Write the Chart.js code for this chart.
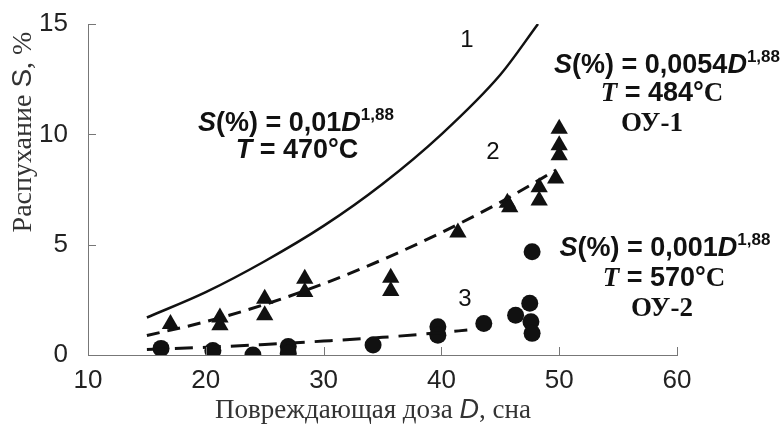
<!DOCTYPE html>
<html>
<head>
<meta charset="utf-8">
<script src="https://cdn.jsdelivr.net/npm/chart.js@4.4.1/dist/chart.umd.min.js"></script>
<style>
  html, body { margin: 0; padding: 0; background: #ffffff; }
  #wrap { width: 781px; height: 425px; }
</style>
</head>
<body>
<div id="wrap"><canvas id="c" width="781" height="425"></canvas></div>
<script>
// Axis ticks
const doseTicks = [10, 20, 30, 40, 50, 60];
const swellTicks = [0, 5, 10, 15];

// Fitted curves (dose D, swelling S %)
const fit1Dose = [15, 20, 25, 30, 35, 40, 45, 48.2];
const fit1Swell = [1.7, 2.85, 4.25, 5.85, 7.75, 10.0, 12.7, 15.0];
const fit2Dose = [15, 20, 25, 30, 35, 40, 45, 49.7];
const fit2Swell = [0.88, 1.51, 2.29, 3.23, 4.32, 5.55, 6.92, 8.37];
const fit3Dose = [15, 20, 25, 30, 35, 40, 42.2];
const fit3Swell = [0.25, 0.35, 0.48, 0.63, 0.8, 1.02, 1.13];

// Measured points, ОУ-1 (triangles)
const ou1Dose = [17.0, 21.2, 21.2, 25.0, 25.0, 28.4, 28.4, 35.7, 35.7, 41.4, 45.6, 45.8, 48.3, 48.3, 49.7, 50.0, 50.0, 50.0];
const ou1Swell = [1.4, 1.7, 1.35, 2.55, 1.8, 3.45, 2.85, 3.5, 2.9, 5.55, 6.9, 6.7, 7.6, 7.0, 8.0, 10.25, 9.5, 9.05];

// Measured points, ОУ-2 (circles)
const ou2Dose = [16.2, 20.6, 24.0, 27.0, 27.0, 34.2, 39.7, 39.7, 43.6, 46.3, 47.5, 47.6, 47.7, 47.7];
const ou2Swell = [0.3, 0.2, 0.0, 0.38, 0.08, 0.45, 1.28, 0.9, 1.43, 1.8, 2.34, 1.51, 0.98, 4.68];

const pairs = (xs, ys) => xs.map((x, i) => ({ x: x, y: ys[i] }));

const INK = '#111111';
const SANS = '"Liberation Sans", Arial, sans-serif';
const SERIF = '"Liberation Serif", "Times New Roman", serif';

function drawRuns(ctx, runs, cx, y) {
  let w = 0;
  runs.forEach(r => { ctx.font = r.f; r.w = ctx.measureText(r.t).width; w += r.w; });
  let x = cx - w / 2;
  runs.forEach(r => { ctx.font = r.f; ctx.fillText(r.t, x, y + (r.dy || 0)); x += r.w; });
}

const fB = 'bold 27px ' + SANS;
const fBI = 'italic bold 27px ' + SANS;
const fSup = 'bold 17px ' + SANS;
const fSerB = 'bold 27px ' + SERIF;
const fSerBI = 'italic bold 27px ' + SERIF;
const fNum = '24px ' + SANS;

const decor = {
  id: 'decor',
  afterDraw(chart) {
    const ctx = chart.ctx;
    const xs = chart.scales.x, ys = chart.scales.y;
    const a = chart.chartArea;
    ctx.save();
    // inward tick marks
    ctx.strokeStyle = '#777777';
    ctx.lineWidth = 1;
    ctx.beginPath();
    doseTicks.forEach(v => {
      if (v === doseTicks[0]) return;
      const px = Math.round(xs.getPixelForValue(v)) + 0.5;
      ctx.moveTo(px, a.bottom); ctx.lineTo(px, a.bottom - 8);
    });
    swellTicks.forEach(v => {
      if (v === swellTicks[0]) return;
      const py = Math.round(ys.getPixelForValue(v)) + 0.5;
      ctx.moveTo(a.left, py); ctx.lineTo(a.left + 8, py);
    });
    ctx.stroke();

    ctx.fillStyle = INK;
    ctx.textBaseline = 'alphabetic';
    ctx.textAlign = 'left';

    // curve numbers
    drawRuns(ctx, [{ t: '1', f: fNum }], 467, 47);
    drawRuns(ctx, [{ t: '2', f: fNum }], 493, 159);
    drawRuns(ctx, [{ t: '3', f: fNum }], 465, 306);

    // curve 1 equation
    drawRuns(ctx, [
      { t: 'S', f: fBI }, { t: '(%) = 0,01', f: fB }, { t: 'D', f: fBI }, { t: '1,88', f: fSup, dy: -11 }
    ], 296, 131);
    drawRuns(ctx, [{ t: 'T', f: fBI }, { t: ' = 470°C', f: fB }], 297, 158);

    // curve 2 equation
    drawRuns(ctx, [
      { t: 'S', f: fBI }, { t: '(%) = 0,0054', f: fB }, { t: 'D', f: fBI }, { t: '1,88', f: fSup, dy: -11 }
    ], 667, 73);
    drawRuns(ctx, [{ t: 'T', f: fSerBI }, { t: ' = 484°', f: fB }, { t: 'C', f: fSerB }], 662, 101);
    drawRuns(ctx, [{ t: 'ОУ-1', f: fSerB }], 652, 131);

    // curve 3 equation
    drawRuns(ctx, [
      { t: 'S', f: fBI }, { t: '(%) = 0,001', f: fB }, { t: 'D', f: fBI }, { t: '1,88', f: fSup, dy: -11 }
    ], 665, 256);
    drawRuns(ctx, [{ t: 'T', f: fSerBI }, { t: ' = 570°', f: fB }, { t: 'C', f: fSerB }], 664, 286);
    drawRuns(ctx, [{ t: 'ОУ-2', f: fSerB }], 662, 316);

    // axis titles
    ctx.fillStyle = '#333333';
    drawRuns(ctx, [
      { t: 'Повреждающая доза ', f: '27px ' + SERIF },
      { t: 'D', f: 'italic 27px ' + SANS },
      { t: ', сна', f: '27px ' + SERIF }
    ], 373, 418);
    ctx.save();
    ctx.translate(31, 132);
    ctx.rotate(-Math.PI / 2);
    drawRuns(ctx, [
      { t: 'Распухание ', f: '28px ' + SERIF },
      { t: 'S', f: '28px ' + SANS },
      { t: ', %', f: '28px ' + SERIF }
    ], 0, 0);
    ctx.restore();
    ctx.restore();
  }
};

const bg = {
  id: 'bg',
  beforeDraw(chart) {
    const ctx = chart.ctx;
    ctx.save();
    ctx.fillStyle = '#ffffff';
    ctx.fillRect(0, 0, chart.width, chart.height);
    ctx.restore();
  }
};

new Chart(document.getElementById('c'), {
  type: 'scatter',
  data: {
    datasets: [
      { type: 'line', data: pairs(fit1Dose, fit1Swell), borderColor: INK, borderWidth: 2.5, pointRadius: 0, cubicInterpolationMode: 'monotone', fill: false },
      { type: 'line', data: pairs(fit2Dose, fit2Swell), borderColor: INK, borderWidth: 3, borderDash: [13, 8], pointRadius: 0, cubicInterpolationMode: 'monotone', fill: false },
      { type: 'line', data: pairs(fit3Dose, fit3Swell), borderColor: INK, borderWidth: 3, borderDash: [18, 10], pointRadius: 0, cubicInterpolationMode: 'monotone', fill: false },
      { data: pairs(ou1Dose, ou1Swell), pointStyle: 'triangle', pointRadius: 10, backgroundColor: INK, borderColor: INK, borderWidth: 0 },
      { data: pairs(ou2Dose, ou2Swell), pointStyle: 'circle', pointRadius: 8.5, backgroundColor: INK, borderColor: INK, borderWidth: 0 }
    ]
  },
  options: {
    responsive: false,
    animation: false,
    layout: { padding: { left: 0, top: 24, right: 104, bottom: 0 } },
    plugins: { legend: { display: false }, tooltip: { enabled: false } },
    scales: {
      x: {
        type: 'linear', min: 10, max: 60,
        afterBuildTicks: s => { s.ticks = doseTicks.map(v => ({ value: v })); },
        afterFit: s => { s.height = 70; s.paddingLeft = 0; s.paddingRight = 0; },
        grid: { display: false, drawTicks: false },
        border: { display: true, color: '#777777', width: 1 },
        ticks: { padding: 10, color: '#222222', font: { family: SANS, size: 26 }, maxRotation: 0 }
      },
      y: {
        type: 'linear', min: 0, max: 15,
        afterBuildTicks: s => { s.ticks = swellTicks.map(v => ({ value: v })); },
        afterFit: s => { s.width = 88; s.paddingTop = 0; s.paddingBottom = 0; },
        grid: { display: false, drawTicks: false },
        border: { display: true, color: '#777777', width: 1 },
        ticks: { padding: 20, color: '#222222', font: { family: SANS, size: 26 } }
      }
    }
  },
  plugins: [bg, decor]
});
</script>
</body>
</html>
